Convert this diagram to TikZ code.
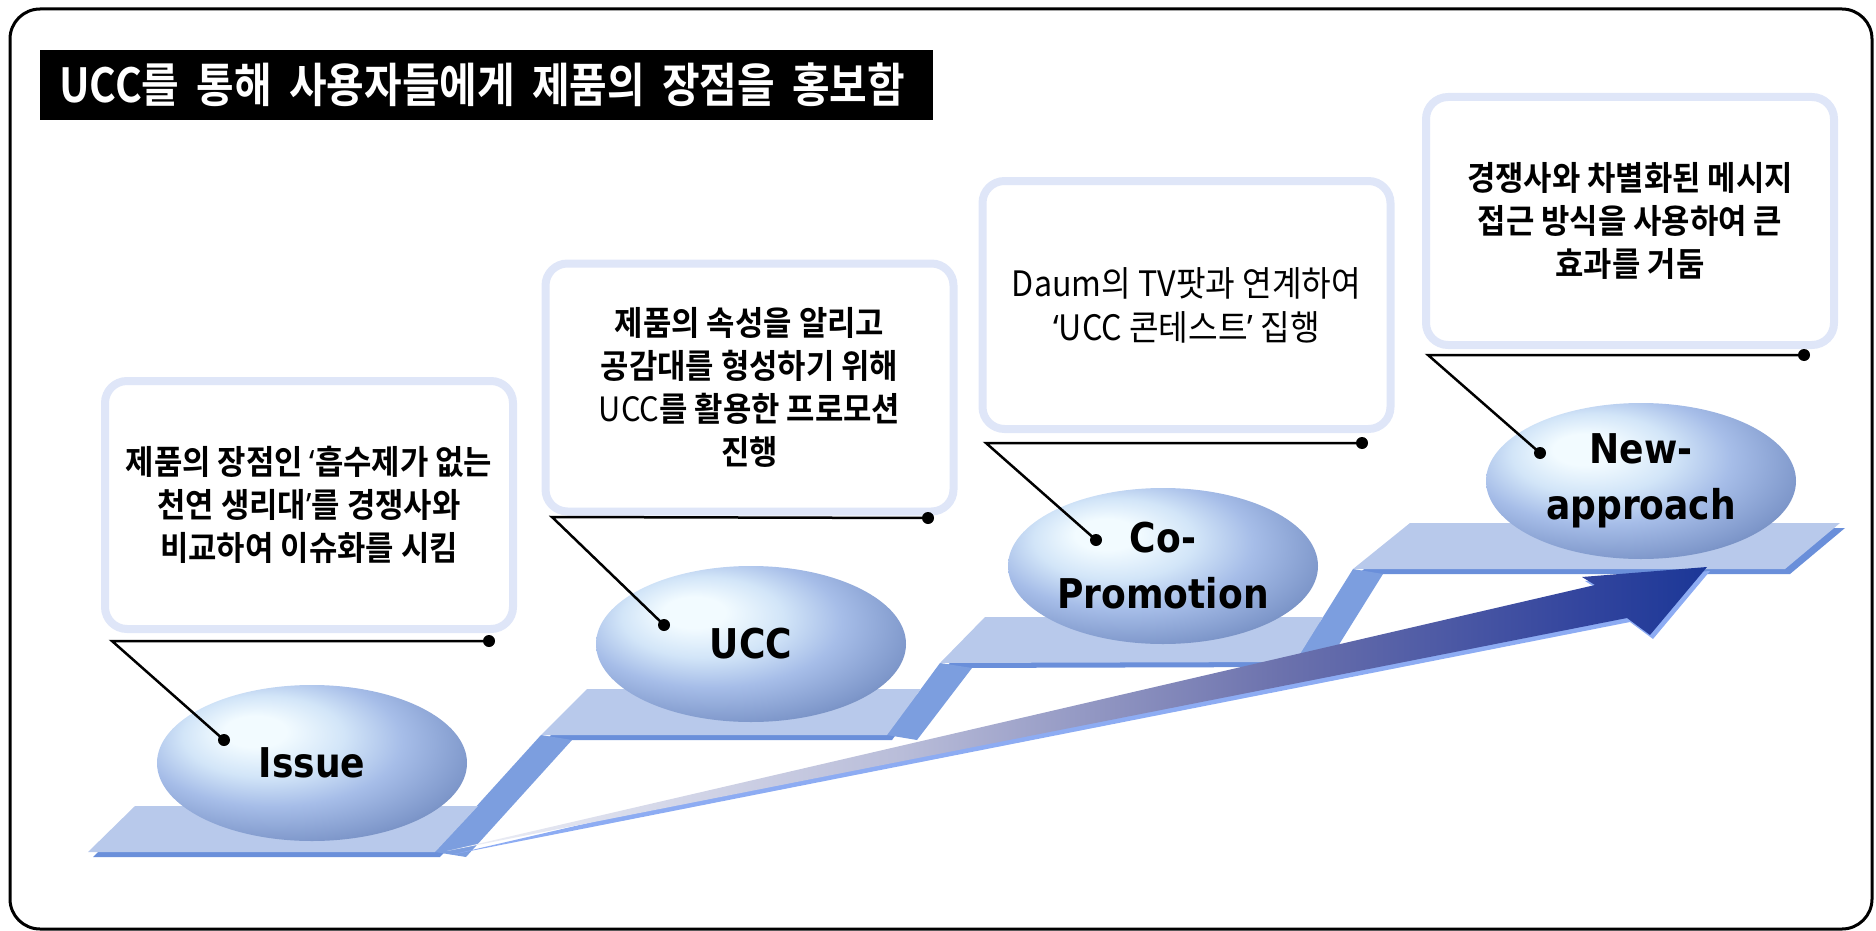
\documentclass[tikz,border=0pt]{standalone}
\usepackage{fontspec}
\usepackage{graphicx}
\usetikzlibrary{shapes.geometric}

\newfontfamily\krfont{Noto Sans CJK KR}[BoldFont={Noto Sans CJK KR Bold},FakeStretch=0.92]
\newfontfamily\krtitle{Noto Sans CJK KR Bold}[FakeStretch=0.87]
\newfontfamily\orbfont{DejaVu Sans}[FakeStretch=0.88]
\newfontfamily\qtfont{Noto Sans}[FakeStretch=0.92]
\newcommand\qopen{{\qtfont ‘}}
\newcommand\qclose{{\qtfont ’}}

% palette
\definecolor{stepface}{HTML}{B8C9EB}
\definecolor{stepedge}{HTML}{6A8FDA}
\definecolor{riser}{HTML}{7C9EDF}
\definecolor{calloutrim}{HTML}{DFE6F8}
\definecolor{arrowlight}{HTML}{8DACF3}
\definecolor{orbA}{HTML}{F2FBFF}
\definecolor{orbB}{HTML}{D2E5F8}
\definecolor{orbC}{HTML}{A6BDE8}
\definecolor{orbD}{HTML}{7E97CA}
\definecolor{orbE}{HTML}{4C6797}
\definecolor{arA}{HTML}{EEF0F7}
\definecolor{arB}{HTML}{B9BDD9}
\definecolor{arC}{HTML}{6C72AD}
\definecolor{arD}{HTML}{33459E}
\definecolor{arE}{HTML}{1B3797}

% glossy orb: highlight toward the upper left
\pgfdeclareradialshading{orbshade}{\pgfpoint{-10bp}{11bp}}{%
  color(0bp)=(orbA); color(5bp)=(orbA); color(13bp)=(orbB);
  color(21bp)=(orbC); color(31bp)=(orbD); color(41bp)=(orbE); color(60bp)=(orbE)}
% growth arrow: pale at the tail, navy at the head
\pgfdeclarehorizontalshading{arrowshade}{100bp}{%
  color(0bp)=(arA); color(25bp)=(arA); color(43bp)=(arB);
  color(58bp)=(arC); color(70bp)=(arD); color(75bp)=(arE); color(100bp)=(arE)}

\begin{document}
\begin{tikzpicture}[x=1pt,y=-1pt,
  frame/.style={draw=black,line width=3,rounded corners=30},
  callout/.style={draw=calloutrim,fill=white,line width=8,rounded corners=22,
    minimum width=408,minimum height=248,inner sep=0,align=center,
    font=\krfont\bfseries\fontsize{33.5}{43}\selectfont},
  calloutplain/.style={callout,font=\krfont\fontsize{35}{44}\selectfont},
  orb/.style={ellipse,shading=orbshade,minimum width=310,minimum height=156,
    inner sep=0,align=center,font=\orbfont\bfseries\fontsize{41}{56}\selectfont},
  leader/.style={draw=black,line width=2.5},
  pin/.style={circle,fill=black,minimum size=12,inner sep=0},
  face/.style={fill=stepface},
  edge/.style={fill=stepedge},
  riserband/.style={fill=riser}]
\useasboundingbox (0,0) rectangle (1876,931);

% outer frame and title bar
\draw[frame] (10,9) rectangle (1872,929);
\fill[black] (40,50) rectangle (933,120);
\node[anchor=west,text=white,inner sep=0,font=\krtitle\fontsize{47}{47}\selectfont]
  (title) at (59,85)
  {\makebox[846pt][s]{UCC를 통해 사용자들에게 제품의 장점을 홍보함}};

% staircase: under-edges
\fill[edge] (93,857) -- (140,811) -- (483,811) -- (440,857) -- cycle;
\fill[edge] (546,740) -- (592,694) -- (926,694) -- (892,740) -- cycle;
\fill[edge] (945,668) -- (990,622) -- (1328,622) -- (1300,667) -- cycle;
\fill[edge] (1358,574) -- (1415,528) -- (1845,528) -- (1790,574) -- cycle;
% risers between the steps
\fill[riserband] (435,852) -- (466,857) -- (572,740) -- (541,735) -- cycle;
\fill[riserband] (887,735) -- (917,740) -- (972,668) -- (940,663) -- cycle;
\fill[riserband] (1295,662) -- (1325,667) -- (1383,574) -- (1353,569) -- cycle;
% step tops
\fill[face] (88,852) -- (135,806) -- (478,806) -- (435,852) -- cycle;
\fill[face] (541,735) -- (587,689) -- (921,689) -- (887,735) -- cycle;
\fill[face] (940,663) -- (985,617) -- (1323,617) -- (1295,662) -- cycle;
\fill[face] (1353,569) -- (1410,523) -- (1840,523) -- (1785,569) -- cycle;

% growth arrow with its light lower rim
\fill[arrowlight] (450,855) -- (1598,589) -- (1585,581) -- (1710,571)
  -- (1653,639) -- (1630,622) -- cycle;
\shade[shading=arrowshade] (447,851) -- (1595,585) -- (1582,577) -- (1707,567)
  -- (1650,635) -- (1627,618) -- cycle;

% orbs
\node[orb] (issue) at (312,763) {Issue};
\node[orb] (ucc) at (751,644) {UCC};
\node[orb] (copro) at (1163,566) {Co-\\Promotion};
\node[orb] (newap) at (1641,481) {New-\\approach};

% callouts
\node[callout] (b1) at (309,505)
  {제품의 장점인 \qopen 흡수제가 없는\\천연 생리대\qclose 를 경쟁사와\\비교하여 이슈화를 시킴};
\node[callout] (b2) at (749.5,387.5)
  {제품의 속성을 알리고\\공감대를 형성하기 위해\\{\mdseries UCC}를 활용한 프로모션\\진행};
\node[calloutplain] (b3) at (1186.5,305)
  {Daum의 TV팟과 연계하여\\\qopen UCC 콘테스트\qclose{} 집행};
\node[callout] (b4) at (1630,221)
  {경쟁사와 차별화된 메시지\\접근 방식을 사용하여 큰\\효과를 거둠};

% leader lines from callouts to orbs
\coordinate (k1) at (112,641);
\node[pin] (e1) at (489,641) {};
\node[pin] (d1) at (224,740) {};
\draw[leader] (e1.center) -- (k1) -- (d1.center);

\coordinate (k2) at (552,517);
\node[pin] (e2) at (928,518) {};
\node[pin] (d2) at (664,625) {};
\draw[leader] (e2.center) -- (k2) -- (d2.center);

\coordinate (k3) at (986,443);
\node[pin] (e3) at (1362,443) {};
\node[pin] (d3) at (1096,540) {};
\draw[leader] (e3.center) -- (k3) -- (d3.center);

\coordinate (k4) at (1428,355);
\node[pin] (e4) at (1804,355) {};
\node[pin] (d4) at (1540,453) {};
\draw[leader] (e4.center) -- (k4) -- (d4.center);
\end{tikzpicture}
\end{document}
